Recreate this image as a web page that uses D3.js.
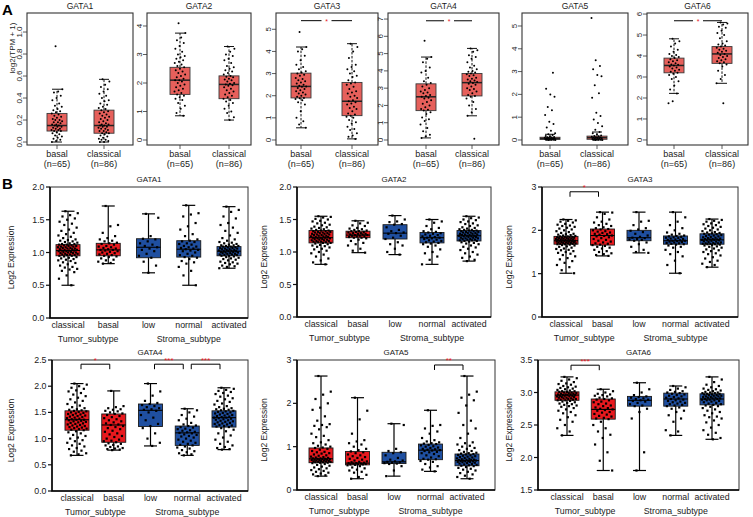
<!DOCTYPE html>
<html><head><meta charset="utf-8">
<script src="https://cdn.jsdelivr.net/npm/d3@7"></script>
<style>
body{margin:0;background:#fff}
svg{display:block}
text{font-family:"Liberation Sans",Arial,Helvetica,sans-serif;fill:#1a1a1a}
</style>
</head><body>
<svg id="c" width="753" height="517"></svg>
<script>
// ================= DATA =================
// ---- Panel A (TCGA: basal vs classical) ----
const genesA = ["GATA1","GATA2","GATA3","GATA4","GATA5","GATA6"];
const groupsA = ["basal","classical"];
const countsA = ["(n=65)","(n=86)"];
const ticksA = [[0,0.2,0.4,0.6,0.8,1.0],[0,1,2,3,4],[0,1,2,3,4,5],[0,1,2,3,4,5,6,7],[0,1,2,3,4,5],[0,1,2,3,4,5,6]];
const domainsA = [[-0.027,1.173],[-0.175,4.456],[-0.226,5.736],[-0.29,7.35],[-0.22,5.57],[-0.24,6.05]];
// box stats: [lower whisker, Q1, median, Q3, upper whisker]
const boxA_GATA1 = [[0,0.10,0.15,0.26,0.48],[0,0.08,0.15,0.29,0.57]];
const boxA_GATA2 = [[0.85,1.6,2.1,2.55,3.75],[0.7,1.45,1.95,2.25,3.28]];
const boxA_GATA3 = [[0.55,1.9,2.42,3.02,4.2],[0.05,1.1,1.75,2.6,4.35]];
const boxA_GATA4 = [[0.12,1.7,2.5,3.25,4.8],[1.4,2.55,3.32,3.85,5.3]];
const boxA_GATA5 = [[0,0.02,0.07,0.12,0.25],[0,0.03,0.1,0.17,0.35]];
const boxA_GATA6 = [[2.22,3.2,3.55,3.9,4.82],[2.7,3.65,4.1,4.45,5.6]];
const ptsA_GATA1 = [
 [0.87,0.48,0.46,0.45,0.42,0.40,0.38,0.35,0.33,0.32,0.30,0.29,0.28,0.27,0.26,0.25,0.24,0.23,0.22,0.21,0.20,0.20,0.19,0.18,0.18,0.17,0.16,0.16,0.15,0.15,0.14,0.14,0.13,0.12,0.12,0.11,0.11,0.10,0.10,0.09,0.08,0.07,0.06,0.05,0.04,0.03,0.02,0.01,0.0],
 [0.57,0.55,0.52,0.50,0.48,0.46,0.44,0.42,0.40,0.38,0.37,0.35,0.34,0.32,0.31,0.30,0.29,0.28,0.27,0.26,0.25,0.24,0.23,0.22,0.21,0.20,0.19,0.18,0.17,0.16,0.16,0.15,0.15,0.14,0.14,0.13,0.12,0.12,0.11,0.10,0.10,0.09,0.08,0.08,0.07,0.06,0.05,0.04,0.03,0.02,0.02,0.01,0.0,0.0]];
const ptsA_GATA2 = [
 [4.1,3.75,3.6,3.5,3.4,3.3,3.2,3.1,3.0,2.95,2.9,2.85,2.8,2.75,2.7,2.65,2.6,2.55,2.5,2.45,2.4,2.35,2.3,2.25,2.2,2.15,2.1,2.1,2.05,2.0,1.95,1.9,1.85,1.8,1.75,1.7,1.65,1.6,1.55,1.5,1.45,1.4,1.3,1.2,1.1,0.95,0.85],
 [3.28,3.2,3.1,3.0,2.95,2.85,2.8,2.7,2.6,2.55,2.5,2.45,2.4,2.35,2.3,2.25,2.22,2.2,2.15,2.12,2.1,2.05,2.0,1.97,1.95,1.92,1.9,1.85,1.8,1.75,1.7,1.65,1.6,1.55,1.5,1.45,1.4,1.35,1.3,1.2,1.1,1.0,0.95,0.8,0.7]];
const ptsA_GATA3 = [
 [4.88,4.2,4.1,4.0,3.8,3.6,3.4,3.3,3.2,3.1,3.05,3.0,2.95,2.9,2.8,2.75,2.7,2.65,2.6,2.55,2.5,2.45,2.42,2.4,2.35,2.3,2.25,2.2,2.15,2.1,2.05,2.0,1.95,1.9,1.88,1.85,1.8,1.7,1.6,1.3,1.0,0.85,0.7,0.55],
 [4.35,4.2,4.0,3.7,3.4,3.3,3.2,3.1,3.0,2.9,2.85,2.7,2.6,2.55,2.5,2.4,2.3,2.2,2.15,2.1,2.0,1.95,1.9,1.8,1.75,1.7,1.65,1.6,1.5,1.45,1.4,1.3,1.2,1.15,1.1,1.05,1.0,0.9,0.8,0.75,0.6,0.5,0.45,0.3,0.2,0.15,0.05]];
const ptsA_GATA4 = [
 [5.75,4.8,4.7,4.5,4.2,4.0,3.9,3.6,3.4,3.3,3.2,3.1,3.0,2.9,2.8,2.75,2.7,2.6,2.55,2.5,2.45,2.4,2.3,2.2,2.1,2.0,1.9,1.8,1.75,1.7,1.6,1.5,1.3,1.2,1.1,0.9,0.7,0.5,0.3,0.2,0.12],
 [5.3,5.2,5.1,4.9,4.8,4.7,4.5,4.3,4.2,4.1,4.0,3.95,3.9,3.85,3.8,3.75,3.7,3.6,3.55,3.5,3.45,3.4,3.35,3.3,3.25,3.2,3.1,3.0,2.95,2.9,2.8,2.7,2.6,2.55,2.5,2.4,2.2,2.0,1.8,1.6,1.4,0.07]];
const ptsA_GATA5 = [
 [0,0,0.01,0.01,0.02,0.02,0.03,0.04,0.05,0.06,0.07,0.07,0.08,0.09,0.1,0.11,0.12,0.13,0.15,0.18,0.22,0.25,0.3,0.4,0.55,0.7,0.8,1.1,1.3,1.45,1.9,2.0,2.25,2.95],
 [0,0,0.01,0.01,0.02,0.03,0.04,0.05,0.06,0.08,0.09,0.1,0.11,0.12,0.14,0.16,0.17,0.2,0.25,0.3,0.35,0.45,0.6,0.75,0.9,1.05,1.2,1.85,2.05,2.4,2.8,2.85,3.1,3.25,3.5,5.35]];
const ptsA_GATA6 = [
 [4.82,4.7,4.6,4.45,4.3,4.2,4.1,4.05,4.0,3.95,3.9,3.85,3.8,3.75,3.7,3.65,3.6,3.58,3.55,3.5,3.45,3.4,3.35,3.3,3.25,3.2,3.15,3.1,3.0,2.9,2.8,2.6,2.4,2.22,1.85,1.75],
 [5.6,5.55,5.5,5.4,5.35,5.2,5.1,5.0,4.85,4.7,4.6,4.55,4.5,4.45,4.4,4.35,4.3,4.25,4.2,4.15,4.1,4.05,4.0,3.95,3.9,3.85,3.8,3.75,3.7,3.65,3.6,3.5,3.3,3.1,2.9,2.7,1.75]];
const boxA = [boxA_GATA1,boxA_GATA2,boxA_GATA3,boxA_GATA4,boxA_GATA5,boxA_GATA6];
const ptsA = [ptsA_GATA1,ptsA_GATA2,ptsA_GATA3,ptsA_GATA4,ptsA_GATA5,ptsA_GATA6];
// significance bars in A: [gene index, y value, label]
const sigA = [[2,5.39,"*"],[3,6.9,"*"],[5,5.68,"*"]];

// ---- Panel B (subtypes) ----
const genesB = ["GATA1","GATA2","GATA3","GATA4","GATA5","GATA6"];
const groupsB = ["classical","basal","low","normal","activated"];
const superGroupsB = [["Tumor_subtype","classical","basal"],["Stroma_subtype","low","activated"]];
const ticksB = [[0,0.5,1,1.5,2],[0,0.5,1,1.5,2],[0,1,2,3],[0,0.5,1,1.5,2,2.5],[0,1,2,3],[1.5,2,2.5,3,3.5]];
const domainsB = [[0,2],[0,2],[0,3],[0,2.5],[0,3],[1.5,3.5]];
const tickFmtB = [".1f",".1f","d",".1f","d",".1f"];
// [min, Q1, median, Q3, max]
const boxB_GATA1 = [[0.5,0.95,1.03,1.12,1.63],[0.83,0.95,1.04,1.14,1.71],[0.69,0.92,1.08,1.21,1.59],[0.5,0.93,1.05,1.18,1.72],[0.76,0.95,1.02,1.09,1.70]];
const boxB_GATA2 = [[0.81,1.14,1.22,1.33,1.55],[0.99,1.22,1.26,1.32,1.48],[0.96,1.20,1.29,1.42,1.56],[0.81,1.14,1.22,1.30,1.50],[0.86,1.17,1.25,1.33,1.55]];
const boxB_GATA3 = [[1.01,1.68,1.76,1.86,2.25],[1.41,1.66,1.88,2.03,2.42],[1.48,1.76,1.83,2.0,2.42],[1.01,1.68,1.76,1.87,2.42],[1.15,1.68,1.78,1.92,2.26]];
const boxB_GATA4 = [[0.68,1.16,1.36,1.53,2.05],[0.78,0.93,1.26,1.47,1.91],[0.86,1.23,1.54,1.66,2.05],[0.68,0.87,1.11,1.24,1.57],[0.79,1.22,1.40,1.53,1.97]];
const boxB_GATA5 = [[0.32,0.63,0.72,0.97,2.63],[0.26,0.58,0.62,0.89,2.13],[0.32,0.61,0.65,0.87,1.53],[0.43,0.70,0.92,1.06,1.84],[0.26,0.56,0.68,0.83,2.63]];
const boxB_GATA6 = [[2.34,2.88,2.96,3.01,3.24],[1.80,2.59,2.74,2.90,3.05],[1.80,2.79,2.88,2.94,3.15],[2.34,2.79,2.90,2.99,3.10],[2.28,2.81,2.90,2.98,3.24]];
const ptsB_GATA1 = [
 [1.63,1.6,1.57,1.55,1.52,1.5,1.47,1.44,1.42,1.38,1.35,1.33,1.3,1.28,1.26,1.24,1.22,1.2,1.19,1.18,1.17,1.16,1.15,1.14,1.13,1.13,1.12,1.12,1.11,1.11,1.1,1.1,1.09,1.09,1.08,1.08,1.07,1.07,1.06,1.06,1.05,1.05,1.04,1.04,1.03,1.03,1.03,1.02,1.02,1.01,1.01,1.0,1.0,0.99,0.99,0.98,0.98,0.97,0.97,0.96,0.96,0.95,0.95,0.94,0.93,0.92,0.91,0.9,0.89,0.88,0.87,0.85,0.84,0.82,0.8,0.78,0.77,0.75,0.74,0.72,0.7,0.65,0.6,0.5],
 [1.71,1.42,1.4,1.3,1.25,1.22,1.2,1.18,1.17,1.15,1.14,1.13,1.12,1.1,1.09,1.08,1.07,1.06,1.05,1.04,1.04,1.03,1.02,1.01,1.0,0.99,0.98,0.97,0.96,0.95,0.94,0.93,0.91,0.89,0.88,0.86,0.84,0.83],
 [1.59,1.53,1.25,1.21,1.2,1.17,1.14,1.12,1.1,1.08,1.06,1.04,1.02,0.98,0.95,0.92,0.86,0.8,0.69],
 [1.72,1.6,1.58,1.55,1.45,1.4,1.35,1.28,1.25,1.2,1.18,1.17,1.16,1.14,1.13,1.12,1.1,1.09,1.08,1.07,1.06,1.05,1.04,1.03,1.02,1.0,0.98,0.96,0.95,0.93,0.92,0.9,0.87,0.85,0.83,0.78,0.72,0.65,0.5],
 [1.70,1.65,1.62,1.55,1.52,1.45,1.42,1.38,1.33,1.3,1.26,1.22,1.2,1.18,1.16,1.15,1.14,1.13,1.12,1.11,1.11,1.1,1.1,1.09,1.09,1.08,1.08,1.07,1.07,1.06,1.06,1.05,1.05,1.04,1.04,1.03,1.03,1.02,1.02,1.02,1.01,1.01,1.0,1.0,0.99,0.99,0.98,0.98,0.97,0.97,0.96,0.96,0.95,0.95,0.94,0.93,0.92,0.91,0.9,0.89,0.88,0.86,0.85,0.84,0.83,0.82,0.8,0.79,0.78,0.76]];
const ptsB_GATA2 = [
 [1.55,1.54,1.53,1.51,1.5,1.48,1.47,1.45,1.44,1.42,1.41,1.39,1.38,1.37,1.36,1.35,1.34,1.33,1.33,1.32,1.32,1.31,1.31,1.3,1.3,1.29,1.29,1.28,1.28,1.27,1.27,1.26,1.26,1.25,1.25,1.24,1.24,1.23,1.23,1.22,1.22,1.22,1.21,1.21,1.2,1.2,1.19,1.19,1.18,1.18,1.17,1.17,1.16,1.16,1.15,1.15,1.14,1.14,1.13,1.12,1.11,1.1,1.09,1.08,1.07,1.05,1.04,1.02,1.0,0.98,0.96,0.93,0.9,0.87,0.84,0.81],
 [1.48,1.45,1.44,1.41,1.4,1.37,1.36,1.35,1.34,1.33,1.32,1.32,1.31,1.31,1.3,1.29,1.29,1.28,1.28,1.27,1.27,1.26,1.26,1.25,1.25,1.24,1.24,1.23,1.22,1.22,1.21,1.19,1.17,1.14,1.12,1.1,1.05,1.02,0.99],
 [1.56,1.5,1.47,1.46,1.43,1.42,1.38,1.34,1.32,1.3,1.29,1.28,1.25,1.22,1.2,1.15,1.12,1.1,1.05,1.0,0.96],
 [1.5,1.47,1.45,1.4,1.37,1.35,1.32,1.31,1.3,1.29,1.28,1.27,1.26,1.25,1.24,1.23,1.22,1.22,1.21,1.2,1.19,1.18,1.17,1.16,1.15,1.14,1.13,1.12,1.1,1.08,1.04,1.0,0.98,0.93,0.88,0.81],
 [1.55,1.53,1.52,1.5,1.49,1.47,1.46,1.44,1.43,1.41,1.4,1.38,1.37,1.36,1.35,1.34,1.34,1.33,1.33,1.32,1.32,1.31,1.31,1.3,1.3,1.29,1.29,1.28,1.28,1.27,1.27,1.26,1.26,1.25,1.25,1.25,1.24,1.24,1.23,1.23,1.22,1.22,1.21,1.21,1.2,1.2,1.19,1.19,1.18,1.18,1.17,1.17,1.16,1.15,1.14,1.13,1.12,1.1,1.08,1.07,1.05,1.03,1.0,0.98,0.96,0.93,0.91,0.88,0.86]];
const ptsB_GATA3 = [
 [2.25,2.23,2.22,2.2,2.18,2.15,2.13,2.11,2.1,2.08,2.06,2.04,2.02,2.0,1.98,1.96,1.94,1.92,1.91,1.9,1.89,1.88,1.87,1.86,1.86,1.85,1.85,1.84,1.84,1.83,1.83,1.82,1.82,1.81,1.81,1.8,1.8,1.79,1.79,1.78,1.78,1.77,1.77,1.76,1.76,1.76,1.75,1.75,1.74,1.74,1.73,1.73,1.72,1.72,1.71,1.71,1.7,1.7,1.69,1.69,1.68,1.68,1.67,1.66,1.65,1.63,1.62,1.6,1.58,1.57,1.55,1.54,1.52,1.5,1.48,1.46,1.43,1.4,1.36,1.33,1.29,1.25,1.2,1.15,1.08,1.01],
 [2.42,2.41,2.38,2.3,2.25,2.2,2.18,2.15,2.12,2.1,2.07,2.05,2.03,2.02,2.0,1.98,1.97,1.95,1.94,1.92,1.91,1.9,1.88,1.87,1.86,1.84,1.82,1.8,1.78,1.76,1.74,1.72,1.7,1.69,1.67,1.66,1.64,1.62,1.6,1.58,1.55,1.52,1.5,1.47,1.45,1.43,1.41],
 [2.42,2.22,2.2,2.12,2.05,2.02,1.99,1.96,1.92,1.88,1.85,1.83,1.82,1.8,1.79,1.78,1.76,1.72,1.68,1.62,1.55,1.5,1.48],
 [2.42,2.3,2.2,2.12,2.05,2.0,1.95,1.92,1.9,1.88,1.87,1.86,1.85,1.84,1.83,1.82,1.81,1.8,1.79,1.78,1.77,1.76,1.76,1.75,1.74,1.73,1.72,1.71,1.7,1.69,1.68,1.67,1.65,1.62,1.6,1.55,1.5,1.45,1.4,1.3,1.2,1.01],
 [2.26,2.24,2.22,2.2,2.18,2.16,2.14,2.12,2.1,2.08,2.06,2.04,2.02,2.0,1.98,1.96,1.95,1.94,1.93,1.92,1.91,1.9,1.89,1.88,1.87,1.86,1.85,1.84,1.83,1.82,1.81,1.8,1.8,1.79,1.79,1.78,1.78,1.77,1.77,1.76,1.75,1.74,1.73,1.72,1.71,1.7,1.7,1.69,1.69,1.68,1.68,1.67,1.66,1.65,1.63,1.62,1.6,1.58,1.56,1.54,1.52,1.5,1.47,1.45,1.42,1.38,1.35,1.3,1.27,1.23,1.2,1.15]];
const ptsB_GATA4 = [
 [2.05,2.03,2.0,1.97,1.95,1.92,1.9,1.87,1.84,1.81,1.78,1.75,1.72,1.69,1.66,1.63,1.6,1.58,1.56,1.55,1.54,1.53,1.52,1.51,1.5,1.49,1.48,1.47,1.46,1.45,1.44,1.43,1.42,1.41,1.4,1.39,1.38,1.37,1.36,1.36,1.35,1.34,1.33,1.32,1.31,1.3,1.29,1.28,1.27,1.26,1.25,1.24,1.23,1.22,1.21,1.2,1.19,1.18,1.17,1.16,1.14,1.12,1.1,1.07,1.05,1.02,1.0,0.97,0.95,0.92,0.9,0.87,0.85,0.82,0.8,0.77,0.75,0.72,0.7,0.68],
 [1.91,1.62,1.6,1.58,1.56,1.55,1.53,1.52,1.5,1.48,1.47,1.45,1.43,1.41,1.39,1.37,1.35,1.33,1.31,1.29,1.27,1.26,1.24,1.22,1.2,1.18,1.15,1.13,1.1,1.08,1.05,1.03,1.0,0.98,0.96,0.95,0.93,0.91,0.9,0.88,0.87,0.85,0.84,0.82,0.81,0.8,0.79,0.78],
 [2.05,1.9,1.82,1.72,1.68,1.66,1.64,1.62,1.6,1.58,1.56,1.55,1.53,1.5,1.45,1.4,1.35,1.28,1.24,1.2,1.1,1.0,0.92,0.86],
 [1.57,1.54,1.5,1.45,1.42,1.38,1.35,1.3,1.27,1.25,1.24,1.22,1.21,1.19,1.18,1.16,1.15,1.13,1.12,1.11,1.1,1.08,1.07,1.05,1.04,1.02,1.0,0.98,0.96,0.94,0.92,0.9,0.88,0.87,0.85,0.83,0.81,0.78,0.76,0.74,0.72,0.7,0.68],
 [1.97,1.95,1.93,1.91,1.89,1.87,1.85,1.82,1.8,1.77,1.75,1.72,1.7,1.67,1.65,1.62,1.6,1.58,1.57,1.56,1.55,1.54,1.53,1.52,1.51,1.5,1.49,1.48,1.47,1.46,1.45,1.44,1.43,1.42,1.41,1.4,1.4,1.39,1.38,1.37,1.36,1.35,1.34,1.33,1.32,1.31,1.3,1.29,1.28,1.27,1.26,1.25,1.24,1.23,1.22,1.2,1.17,1.14,1.1,1.06,1.02,0.98,0.94,0.9,0.87,0.84,0.82,0.8,0.79]];
const ptsB_GATA5 = [
 [2.63,2.27,2.2,2.1,2.0,1.9,1.85,1.7,1.6,1.52,1.5,1.48,1.45,1.4,1.3,1.25,1.22,1.15,1.1,1.08,1.05,1.02,1.0,0.98,0.97,0.95,0.93,0.9,0.88,0.87,0.85,0.84,0.82,0.8,0.79,0.77,0.76,0.75,0.74,0.73,0.73,0.72,0.72,0.71,0.71,0.7,0.7,0.69,0.69,0.68,0.68,0.67,0.67,0.66,0.66,0.65,0.65,0.64,0.64,0.63,0.63,0.62,0.6,0.58,0.56,0.54,0.52,0.5,0.48,0.46,0.44,0.42,0.4,0.38,0.36,0.34,0.32],
 [2.13,1.83,1.63,1.3,1.15,1.12,1.08,1.05,1.0,0.95,0.92,0.89,0.87,0.85,0.82,0.8,0.78,0.76,0.74,0.72,0.7,0.68,0.66,0.65,0.64,0.63,0.62,0.62,0.61,0.61,0.6,0.6,0.59,0.59,0.58,0.57,0.55,0.52,0.5,0.47,0.45,0.42,0.4,0.35,0.3,0.26],
 [1.53,1.5,0.95,0.9,0.87,0.85,0.8,0.74,0.7,0.68,0.66,0.65,0.64,0.63,0.62,0.61,0.6,0.55,0.45,0.32],
 [1.84,1.5,1.48,1.42,1.35,1.3,1.2,1.15,1.12,1.1,1.08,1.07,1.06,1.04,1.03,1.01,1.0,0.98,0.97,0.95,0.94,0.93,0.92,0.91,0.9,0.88,0.87,0.85,0.83,0.8,0.78,0.75,0.72,0.71,0.7,0.67,0.65,0.6,0.55,0.52,0.47,0.43],
 [2.63,2.27,2.2,2.13,2.07,1.95,1.78,1.6,1.5,1.42,1.3,1.2,1.1,1.08,1.05,1.02,1.0,0.97,0.95,0.92,0.9,0.88,0.86,0.85,0.84,0.83,0.82,0.81,0.8,0.79,0.78,0.77,0.76,0.75,0.74,0.73,0.72,0.71,0.7,0.7,0.69,0.69,0.68,0.68,0.67,0.67,0.66,0.66,0.65,0.65,0.64,0.63,0.62,0.61,0.6,0.59,0.58,0.57,0.56,0.55,0.53,0.51,0.49,0.47,0.45,0.42,0.39,0.36,0.33,0.3,0.26]];
const ptsB_GATA6 = [
 [3.24,3.22,3.2,3.18,3.16,3.14,3.13,3.12,3.1,3.09,3.08,3.07,3.06,3.05,3.04,3.03,3.02,3.02,3.01,3.01,3.0,3.0,2.99,2.99,2.98,2.98,2.97,2.97,2.97,2.96,2.96,2.96,2.95,2.95,2.95,2.94,2.94,2.93,2.93,2.92,2.92,2.91,2.91,2.9,2.9,2.89,2.89,2.88,2.88,2.87,2.86,2.85,2.84,2.83,2.82,2.81,2.8,2.79,2.78,2.76,2.74,2.72,2.7,2.68,2.65,2.62,2.58,2.55,2.5,2.45,2.4,2.34],
 [3.05,3.02,3.0,2.98,2.97,2.96,2.95,2.94,2.92,2.91,2.9,2.89,2.88,2.86,2.85,2.83,2.82,2.8,2.79,2.77,2.76,2.75,2.74,2.73,2.72,2.7,2.69,2.67,2.66,2.64,2.63,2.61,2.6,2.59,2.55,2.5,2.45,2.4,2.35,2.3,2.2,2.08,1.95,1.8],
 [3.15,3.05,3.0,2.96,2.94,2.93,2.92,2.91,2.9,2.89,2.88,2.87,2.86,2.84,2.82,2.8,2.79,2.75,2.7,2.6,2.08,1.8],
 [3.1,3.08,3.06,3.04,3.02,3.01,3.0,2.99,2.98,2.97,2.96,2.95,2.94,2.93,2.92,2.91,2.9,2.89,2.88,2.87,2.86,2.85,2.84,2.83,2.82,2.81,2.8,2.79,2.77,2.75,2.72,2.7,2.65,2.6,2.55,2.42,2.4,2.34],
 [3.24,3.2,3.16,3.12,3.1,3.08,3.06,3.05,3.04,3.03,3.02,3.01,3.0,3.0,2.99,2.99,2.98,2.98,2.97,2.97,2.96,2.96,2.95,2.95,2.94,2.94,2.93,2.93,2.92,2.92,2.91,2.91,2.9,2.9,2.89,2.89,2.88,2.88,2.87,2.86,2.85,2.84,2.83,2.82,2.81,2.8,2.79,2.78,2.76,2.74,2.72,2.7,2.68,2.65,2.63,2.62,2.6,2.57,2.54,2.5,2.46,2.42,2.38,2.35,2.3,2.28]];
const boxB = [boxB_GATA1,boxB_GATA2,boxB_GATA3,boxB_GATA4,boxB_GATA5,boxB_GATA6];
const ptsB = [ptsB_GATA1,ptsB_GATA2,ptsB_GATA3,ptsB_GATA4,ptsB_GATA5,ptsB_GATA6];
// significance brackets in B: [gene index, from, to, y value, label]
const sigB = [[2,"classical","basal",2.89,"*"],[3,"classical","basal",2.42,"*"],[3,"low","normal",2.42,"***"],[3,"normal","activated",2.42,"***"],[4,"normal","activated",2.885,"**"],[5,"classical","basal",3.42,"***"]];

// ================= LAYOUT / STYLE =================
const svg = d3.select("#c");
const jit = i => ((i*0.6180339887 + 0.37) % 1) - 0.5;
const redA = "#E6605B", redB = "#E8191E", blueB = "#1F4FA0";

svg.append("text").attr("x",2).attr("y",15).attr("font-size",15).attr("font-weight","bold").style("fill","#000").text("A");
svg.append("text").attr("x",2).attr("y",189).attr("font-size",15).attr("font-weight","bold").style("fill","#000").text("B");

// ---------- Panel A ----------
const frameA = [[27,133],[147,251],[276,378],[388,499],[522,628],[647,748]];
const centersA = [[57,104],[180,229],[301,352],[426,472],[550,597],[674,722]];
const yTopA = 13, yBotA = 145;

genesA.forEach((gene,k)=>{
  const [x0,x1] = frameA[k];
  const y = d3.scaleLinear().domain(domainsA[k]).range([yBotA,yTopA]);
  const x = d3.scalePoint().domain(groupsA).range(centersA[k]);
  const g = svg.append("g");
  g.append("text").attr("x",(x0+x1)/2).attr("y",9).attr("text-anchor","middle").attr("font-size",8.5).text(gene);
  const fmt = k===0 ? d3.format(".1f") : d3.format("d");
  ticksA[k].forEach(t=>{
    g.append("line").attr("x1",x0-4).attr("x2",x0).attr("y1",y(t)).attr("y2",y(t)).attr("stroke","#333").attr("stroke-width",0.8);
    g.append("text").attr("transform",`translate(${x0-5},${y(t)}) rotate(-90)`).attr("text-anchor","middle")
      .attr("font-size",8).style("fill","#222").text(fmt(t));
  });
  groupsA.forEach((grp,i)=>{
    const cx = x(grp);
    g.append("line").attr("x1",cx).attr("x2",cx).attr("y1",yBotA).attr("y2",yBotA+4).attr("stroke","#333").attr("stroke-width",0.8);
    g.append("text").attr("x",cx).attr("y",157).attr("text-anchor","middle").attr("font-size",9).text(grp);
    g.append("text").attr("x",cx).attr("y",167).attr("text-anchor","middle").attr("font-size",9).text(countsA[i]);
  });
  groupsA.forEach((grp,i)=>{
    const cx = x(grp), s = boxA[k][i], bw = 10, cw = 5;
    g.append("line").attr("x1",cx).attr("x2",cx).attr("y1",y(s[3])).attr("y2",y(s[4])).attr("stroke","#111").attr("stroke-dasharray","2.5,1.5");
    g.append("line").attr("x1",cx).attr("x2",cx).attr("y1",y(s[1])).attr("y2",y(s[0])).attr("stroke","#111").attr("stroke-dasharray","2.5,1.5");
    [s[0],s[4]].forEach(v=>g.append("line").attr("x1",cx-cw).attr("x2",cx+cw).attr("y1",y(v)).attr("y2",y(v)).attr("stroke","#111"));
    g.append("rect").attr("x",cx-bw).attr("width",2*bw).attr("y",y(s[3])).attr("height",Math.max(1,y(s[1])-y(s[3])))
      .attr("fill",redA).attr("stroke","#3a3a3a").attr("stroke-width",0.9);
    g.append("line").attr("x1",cx-bw).attr("x2",cx+bw).attr("y1",y(s[2])).attr("y2",y(s[2])).attr("stroke","#222").attr("stroke-width",1.5);
    g.selectAll(null).data(ptsA[k][i]).enter().append("circle")
      .attr("cx",(d,j)=>cx+jit(j)*11).attr("cy",d=>y(d)).attr("r",1).attr("fill","#000");
  });
  g.append("rect").attr("x",x0).attr("y",yTopA).attr("width",x1-x0).attr("height",yBotA-yTopA)
    .attr("fill","none").attr("stroke","#333").attr("stroke-width",1.1);
  sigA.filter(s=>s[0]===k).forEach(s=>{
    const a = x(groupsA[0]), b = x(groupsA[1]), m = (a+b)/2, yy = y(s[1]);
    g.append("line").attr("x1",a).attr("x2",m-5).attr("y1",yy).attr("y2",yy).attr("stroke","#000").attr("stroke-width",1);
    g.append("line").attr("x1",m+5).attr("x2",b).attr("y1",yy).attr("y2",yy).attr("stroke","#000").attr("stroke-width",1);
    g.append("text").attr("x",m).attr("y",yy+3).attr("text-anchor","middle").attr("font-size",7).style("fill","#E8191E").text(s[2]);
  });
});
svg.append("text").attr("transform","translate(15,48) rotate(-90)").attr("text-anchor","middle").attr("font-size",8).text("log2(TPM + 1)");

// ---------- Panel B ----------
const frameB = [[50,248,187,318],[297,491,187,317],[542,738,187,317],[52,248,360,491],[297,495,360,490],[538,739,360,490]];
const centersB = [[68,229],[321,469],[566,712],[77,224],[321,467],[567,712]];
const ylabXB = [14,267,512,14,267,512];

genesB.forEach((gene,k)=>{
  const [x0,x1,yT,yB] = frameB[k];
  const y = d3.scaleLinear().domain(domainsB[k]).range([yB,yT]);
  const x = d3.scalePoint().domain(groupsB).range(centersB[k]);
  const g = svg.append("g");
  g.append("text").attr("x",(x0+x1)/2).attr("y",yT-5).attr("text-anchor","middle").attr("font-size",8).text(gene);
  const fmt = d3.format(tickFmtB[k]);
  ticksB[k].forEach(t=>{
    g.append("line").attr("x1",x0-4).attr("x2",x0).attr("y1",y(t)).attr("y2",y(t)).attr("stroke","#111").attr("stroke-width",1.2);
    g.append("text").attr("x",x0-5.5).attr("y",y(t)).attr("dy","0.35em").attr("text-anchor","end").attr("font-size",8.8).text(fmt(t));
  });
  g.append("text").attr("transform",`translate(${ylabXB[k]},${(yT+yB)/2+5}) rotate(-90)`).attr("text-anchor","middle")
    .attr("font-size",8.5).text("Log2 Expression");
  groupsB.forEach((grp,i)=>{
    const cx = x(grp), s = boxB[k][i], bw = 12, cw = 6.5;
    const col = i<2 ? redB : blueB;
    g.append("line").attr("x1",cx).attr("x2",cx).attr("y1",y(s[0])).attr("y2",y(s[4])).attr("stroke","#000").attr("stroke-width",1.2);
    [s[0],s[4]].forEach(v=>g.append("line").attr("x1",cx-cw).attr("x2",cx+cw).attr("y1",y(v)).attr("y2",y(v)).attr("stroke","#000").attr("stroke-width",1.2));
    g.append("rect").attr("x",cx-bw).attr("width",2*bw).attr("y",y(s[3])).attr("height",y(s[1])-y(s[3]))
      .attr("fill",col).attr("stroke","#1a1a1a").attr("stroke-width",0.9);
    g.append("line").attr("x1",cx-bw).attr("x2",cx+bw).attr("y1",y(s[2])).attr("y2",y(s[2])).attr("stroke","#000").attr("stroke-width",1.1);
    g.selectAll(null).data(ptsB[k][i]).enter().append("rect")
      .attr("x",(d,j)=>cx+jit(j)*20-1.1).attr("y",d=>y(d)-1.1).attr("width",2.2).attr("height",2.2).attr("fill","#000");
    g.append("text").attr("x",cx).attr("y",yB+10).attr("text-anchor","middle").attr("font-size",8.8).text(grp);
  });
  superGroupsB.forEach(sg=>{
    const cx = (x(sg[1])+x(sg[2]))/2;
    g.append("text").attr("x",cx).attr("y",yB+24).attr("text-anchor","middle").attr("font-size",8.8).text(sg[0]);
  });
  g.append("rect").attr("x",x0).attr("y",yT).attr("width",x1-x0).attr("height",yB-yT).attr("fill","none").attr("stroke","#333").attr("stroke-width",1);
  g.append("path").attr("d",`M${x0},${yT}V${yB}H${x1}`).attr("fill","none").attr("stroke","#000").attr("stroke-width",1.5);
  sigB.filter(s=>s[0]===k).forEach(s=>{
    const a = x(s[1])+4, b = x(s[2])-4, yy = y(s[3]);
    g.append("path").attr("d",`M${a},${yy+5}V${yy}H${b}V${yy+5}`).attr("fill","none").attr("stroke","#000").attr("stroke-width",1);
    g.append("text").attr("x",(a+b)/2).attr("y",yy-1.5).attr("text-anchor","middle").attr("font-size",8).style("fill","#E8191E").text(s[4]);
  });
});
</script>
</body></html>
